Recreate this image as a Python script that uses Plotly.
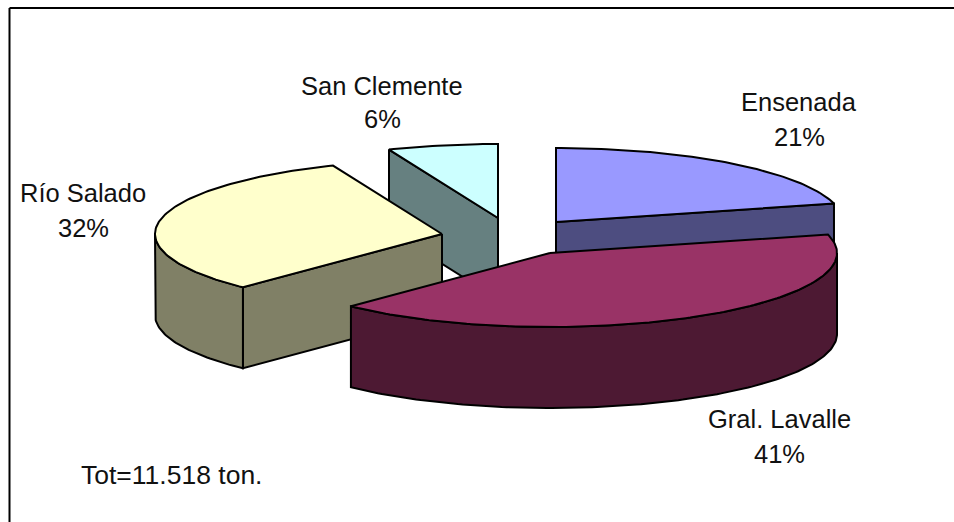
import math
import plotly.graph_objects as go

# Data (labels show these values rounded to whole percents)
categories = ["Ensenada", "Gral. Lavalle", "Río Salado", "San Clemente"]
shares = [21.0, 41.2, 31.6, 6.2]
total_label = "Tot=11.518 ton."

# Styles
top_colors = ["#9999FF", "#993366", "#FFFFCC", "#CCFFFF"]
side_colors = ["#4D4D80", "#4D1933", "#808066", "#668080"]
FONT = "Liberation Sans, Arial, sans-serif"
FONT_SIZE = 25.5
TOTAL_FONT_SIZE = 26.5

# Layout of the projected pie (pixels)
RX, RY, DEPTH = 287, 74, 81
apexes = [(556, 222), (550, 253), (442, 234), (498, 218)]
label_pos = [(799, 102, 137), (779, 419, 454), (83, 193, 228), (382, 86, 119)]
draw_order = [3, 0, 2, 1]
W, H = 954, 522

# Angles clockwise from 12 o'clock, from the shares
starts, acc = [], 0.0
for v in shares:
    starts.append(acc)
    acc += v / sum(shares) * 360


def pt(i, deg, dz=0):
    a = math.radians(deg)
    return apexes[i][0] + RX * math.sin(a), apexes[i][1] - RY * math.cos(a) + dz


def arc(i, a0, a1, dz=0):
    n = max(2, int(abs(a1 - a0)))
    return [pt(i, a0 + (a1 - a0) * k / n, dz) for k in range(n + 1)]


def poly(points, color):
    xs = [p[0] for p in points] + [points[0][0]]
    ys = [p[1] for p in points] + [points[0][1]]
    return go.Scatter(x=xs, y=ys, mode="lines", fill="toself", fillcolor=color,
                      line=dict(color="#000000", width=2), hoverinfo="skip", showlegend=False)


fig = go.Figure()
for i in draw_order:
    a0 = starts[i]
    a1 = a0 + shares[i] / sum(shares) * 360
    ax, ay = apexes[i]
    # Walls that face the viewer
    if a1 <= 90 or a0 >= 270:
        cut = a1 if a1 <= 90 else a0
        p = pt(i, cut)
        fig.add_trace(poly([(ax, ay), p, (p[0], p[1] + DEPTH), (ax, ay + DEPTH)], side_colors[i]))
    if 180 <= a0 < 270:
        p = pt(i, a0)
        fig.add_trace(poly([(ax, ay), p, (p[0], p[1] + DEPTH), (ax, ay + DEPTH)], side_colors[i]))
    r0, r1 = max(a0, 90), min(a1, 270)
    if r1 > r0:
        fig.add_trace(poly(arc(i, r0, r1) + arc(i, r1, r0, DEPTH), side_colors[i]))
    # Top face
    fig.add_trace(poly([(ax, ay)] + arc(i, a0, a1), top_colors[i]))

ann = []
for name, v, (x, y1, y2) in zip(categories, shares, label_pos):
    ann.append(dict(x=x, y=y1, text=name, showarrow=False, xanchor="center", yanchor="middle"))
    ann.append(dict(x=x, y=y2, text=f"{v:.0f}%", showarrow=False, xanchor="center", yanchor="middle"))
ann.append(dict(x=79, y=475, text=total_label, showarrow=False, xanchor="left", yanchor="middle",
                font=dict(size=TOTAL_FONT_SIZE)))

fig.update_layout(
    width=W, height=H, margin=dict(l=0, r=0, t=0, b=0),
    paper_bgcolor="#FFFFFF", plot_bgcolor="#FFFFFF",
    font=dict(family=FONT, size=FONT_SIZE, color="#111111"),
    xaxis=dict(range=[0, W], visible=False, fixedrange=True),
    yaxis=dict(range=[H, 0], visible=False, fixedrange=True),
    annotations=ann,
    shapes=[
        dict(type="line", x0=9.5, y0=8, x1=W, y1=8, xref="x", yref="y", line=dict(color="#000000", width=2)),
        dict(type="line", x0=9.5, y0=8, x1=9.5, y1=H, xref="x", yref="y", line=dict(color="#000000", width=2)),
    ],
)
fig.write_html("out.html", post_script="document.body.style.margin='0';", config={"displayModeBar": False})
